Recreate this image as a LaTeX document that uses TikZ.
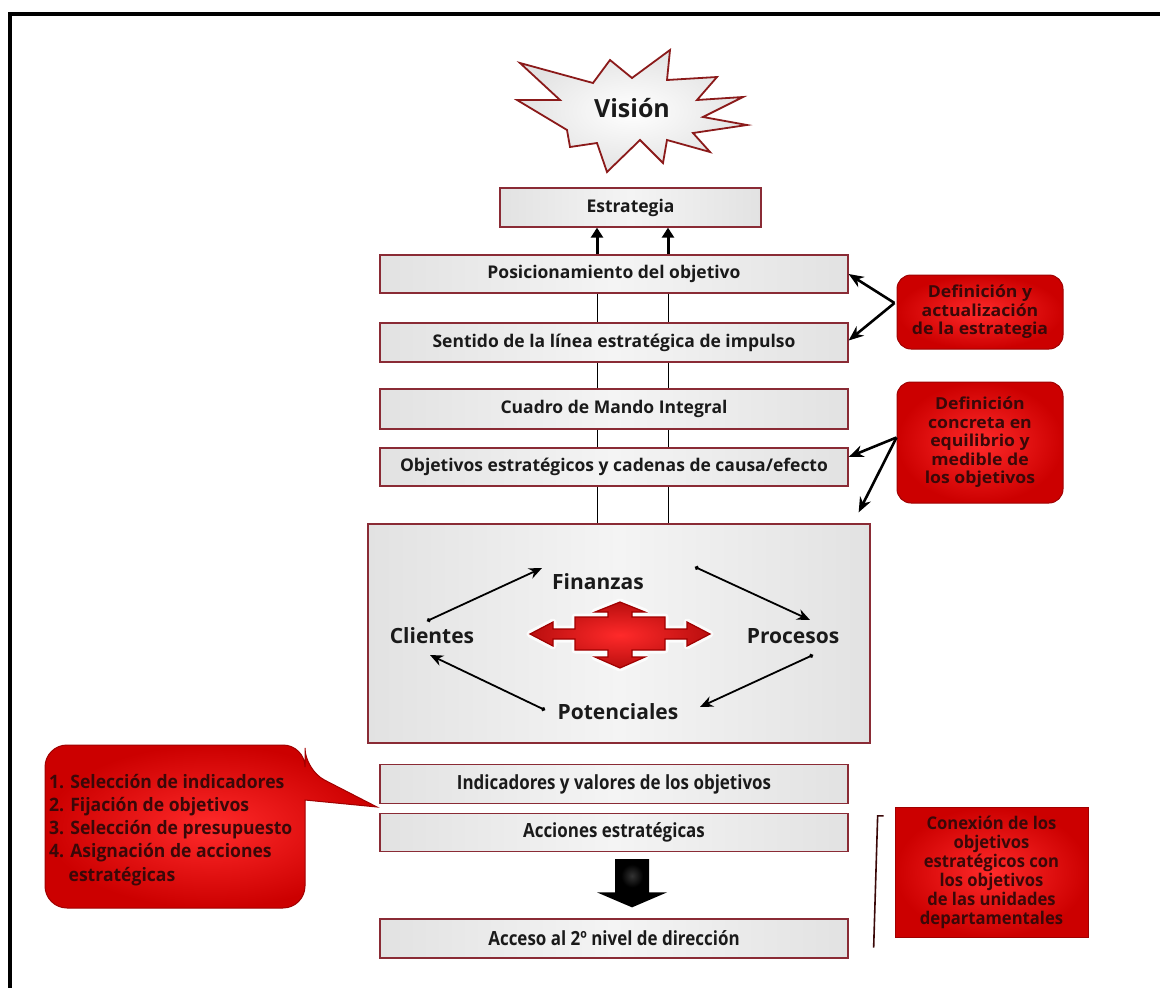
\documentclass[tikz,border=0pt]{standalone}
\usepackage{fontspec}
\setmainfont{Open Sans}
\newfontfamily\condfont{Open Sans}[FakeStretch=0.87]
\newfontfamily\semicond{Open Sans}[FakeStretch=0.95]
\newfontfamily\widefont{Open Sans}[FakeStretch=1.07]
\usetikzlibrary{arrows.meta,calc}
\definecolor{boxred}{HTML}{8A2B35}
\definecolor{boxgrey}{HTML}{E2E2E2}
\definecolor{boxlight}{HTML}{F4F4F4}
\definecolor{txt}{HTML}{1A1A1A}
\definecolor{callin}{HTML}{FF2A2A}
\definecolor{callrim}{HTML}{CC0000}
\definecolor{calldark}{HTML}{A00000}
\definecolor{calltxt}{HTML}{3A0808}
\definecolor{crossred}{HTML}{E81212}
\definecolor{stardark}{HTML}{8B1A1A}
\begin{document}
\begin{tikzpicture}[x=1pt,y=-1pt,
  stepbox/.style={draw=boxred, line width=1.3pt, left color=boxgrey, right color=boxgrey,
    middle color=boxlight, minimum width=468pt, minimum height=38pt, inner sep=0pt,
    font=\bfseries\fontsize{17.5}{19}\selectfont, text=txt},
  lowbox/.style={stepbox, font=\condfont\bfseries\fontsize{19.5}{21}\selectfont},
  redbox/.style={draw=calldark, line width=1pt, inner color=callin, outer color=callrim,
    rounded corners=14pt, text=calltxt, align=center, inner sep=0pt,
    font=\widefont\bfseries\fontsize{16.5}{18.5}\selectfont},
  pillar/.style={draw=black, line width=1pt},
  heavy/.style={draw=black, line width=3pt, -{Triangle[length=10pt,width=12pt]}},
  pointer/.style={draw=black, line width=2.6pt, -{Stealth[length=15pt,width=12pt]}},
  cycarrow/.style={draw=black, line width=1.8pt, {Circle[length=4pt]}-{Stealth[length=13pt,width=11pt]}},
  persp/.style={font=\bfseries\fontsize{21}{23}\selectfont, text=txt, inner sep=2pt}
]
\useasboundingbox (0,0) rectangle (1160,988);

% frame
\draw[line width=4pt, line cap=rect] (1160,14) -- (10,14) -- (10,988);

% vision burst
\draw[stardark, line width=1.8pt, inner color=white, outer color=gray!22, line join=miter]
  (520,63) -- (593,83) -- (610,60) -- (632,78) -- (670,50) -- (667,80) -- (717,77) --
  (697,100) -- (743,97) -- (703,117) -- (747,125) -- (693,133) -- (710,152) --
  (667,140) -- (663,163) -- (640,140) -- (607,172) -- (597,143) -- (570,147) --
  (567,130) -- (517,100) -- (560,100) -- cycle;
\node[font=\bfseries\fontsize{25}{27}\selectfont, text=txt] (vis) at (632,108) {Visión};

% main column
\node[stepbox, minimum width=261pt, minimum height=39pt] (est) at (630.5,207.5) {Estrategia};
\node[stepbox] (pos) at (614,274) {Posicionamiento del objetivo};
\node[stepbox, minimum height=39pt] (sen) at (614,342.5) {Sentido de la línea estratégica de impulso};
\node[stepbox, minimum height=40pt] (cua) at (614,409) {Cuadro de Mando Integral};
\node[stepbox] (obj) at (614,467) {Objetivos estratégicos y cadenas de causa/efecto};
\node[stepbox, minimum width=502pt, minimum height=219pt] (big) at (619,633.5) {};
\node[lowbox, minimum height=39pt] (ind) at (614,784) {Indicadores y valores de los objetivos};
\node[lowbox] (acc) at (614,832.5) {Acciones estratégicas};
\node[lowbox, minimum height=39pt] (acs) at (614,938.5) {Acceso al 2º nivel de dirección};

\coordinate (cl) at (597,0);
\coordinate (cr) at (668,0);
\draw[heavy] (pos.north -| cl) -- (est.south -| cl);
\draw[heavy] (pos.north -| cr) -- (est.south -| cr);
\foreach \a/\b in {pos/sen, sen/cua, cua/obj, obj/big}{
  \draw[pillar] (\a.south -| cl) -- (\b.north -| cl);
  \draw[pillar] (\a.south -| cr) -- (\b.north -| cr);
}

% perspectives inside the scorecard
\node[persp] (fin) at (598,582) {Finanzas};
\node[persp] (cli) at (432,636) {Clientes};
\node[persp] (pro) at (793,636) {Procesos};
\node[persp] (pot) at (618,712) {Potenciales};
\draw[cycarrow] ($(cli)+(-5,-15)$) -- ($(fin)+(-56,-14)$);
\draw[cycarrow] ($(fin)+(97,-15)$) -- ($(pro)+(17,-16)$);
\draw[cycarrow] ($(pro)+(20,19)$) -- ($(pot)+(82,-5)$);
\draw[cycarrow] ($(pot)+(-73,-2)$) -- ($(cli)+(-2,19)$);

% four-way arrow
\def\crosspath{(620,602) -- (645,612) -- (632,612) -- (632,617) -- (665,617) -- (665,629) --
  (687,629) -- (687,622) -- (710,634) -- (687,646) -- (687,639) -- (665,639) -- (665,650) --
  (632,650) -- (632,657) -- (645,657) -- (620,668) -- (595,657) -- (608,657) -- (608,650) --
  (575,650) -- (575,639) -- (553,639) -- (553,646) -- (530,634) -- (553,622) -- (553,629) --
  (575,629) -- (575,617) -- (608,617) -- (608,612) -- (595,612) -- cycle}
\draw[white, line width=7pt, line join=round, opacity=0.8] \crosspath;
\draw[draw=calldark, line width=1.2pt, inner color=callin, outer color=crossred!80!black] \crosspath;

% strategy callouts
\node[redbox, minimum width=166pt, minimum height=74pt] (c1) at (980,312)
  {Definición y\\actualización\\de la estrategia};
\node[redbox, minimum width=166pt, minimum height=121pt] (c2) at (980,442.5)
  {Definición\\concreta en\\equilibrio y\\medible de\\los objetivos};
\draw[pointer] ($(c1.west)+(-2,-9)$) -- (pos.east);
\draw[pointer] ($(c1.west)+(-2,-9)$) -- ($(sen.east)+(0,-2)$);
\draw[pointer] ($(c2.west)+(0,-5)$) -- ($(obj.east)+(0,-10)$);
\draw[pointer] ($(c2.west)+(0,-5)$) -- ($(big.north east)+(-12,-11)$);

% speech bubble with the steps
\path[draw=calldark, line width=1pt, inner color=callin, outer color=callrim]
  (175,745) [rounded corners=22pt] -- (305,745) -- (305,770) [sharp corners] --
  (377,807) -- (305,800) [rounded corners=22pt] -- (305,908) -- (45,908) -- (45,745) -- cycle;
\node[anchor=north west, align=left, inner sep=0pt, text=calltxt,
  font=\semicond\bfseries\fontsize{18.5}{23.2}\selectfont] (steps) at (49,774)
  {1. Selección de indicadores\\2. Fijación de objetivos\\3. Selección de presupuesto\\
   4. Asignación de acciones\\\hspace*{1.05em}estratégicas};

% black transfer arrow
\coordinate (ta) at ($(acc.south)+(18,7)$);
\coordinate (tb) at ($(acs.north)+(18,-11)$);
\fill[black] ($(ta)+(-17,0)$) -- ($(ta)+(17,0)$) -- ($(tb)+(17,-15)$) -- ($(tb)+(35,-15)$) --
  (tb) -- ($(tb)+(-35,-15)$) -- ($(tb)+(-17,-15)$) -- cycle;
\fill[inner color=gray!40!black, outer color=black] ($(ta)+(-11,5)$) rectangle ($(tb)+(11,-20)$);

% departmental connection
\node[redbox, rounded corners=0pt, minimum width=193pt, minimum height=130pt,
  font=\semicond\bfseries\fontsize{17.5}{19}\selectfont] (c4) at (991.5,872)
  {Conexión de los\\objetivos\\estratégicos con\\los objetivos\\de las unidades\\departamentales};
\draw[line width=1.6pt, draw=calltxt] ($(acc.north east)+(35,3)$) -- ($(acc.north east)+(29,3)$)
  -- ($(acs.south east)+(25,-11)$);
\end{tikzpicture}
\end{document}
